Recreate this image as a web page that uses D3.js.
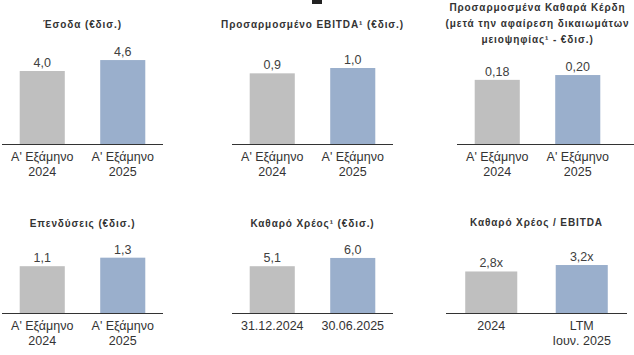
<!DOCTYPE html>
<html><head><meta charset="utf-8">
<script src="https://cdn.jsdelivr.net/npm/d3@7"></script>
<style>
html,body{margin:0;padding:0;background:#fff;}
svg{display:block;font-family:"Liberation Sans",Arial,sans-serif;}
</style></head><body>
<svg id="c" width="634" height="355"></svg>
<script>
// ---- data ----
const titles = [
  ["Έσοδα (€δισ.)"],
  ["Προσαρμοσμένο EBITDA¹ (€δισ.)"],
  ["Προσαρμοσμένα Καθαρά Κέρδη", "(μετά την αφαίρεση δικαιωμάτων", "μειοψηφίας¹ - €δισ.)"],
  ["Επενδύσεις (€δισ.)"],
  ["Καθαρό Χρέος¹ (€δισ.)"],
  ["Καθαρό Χρέος / EBITDA"]
];
const categoriesH1 = [["Α' Εξάμηνο", "2024"], ["Α' Εξάμηνο", "2025"]];
const categoriesDebt = [["31.12.2024"], ["30.06.2025"]];
const categoriesLev = [["2024"], ["LTM", "Ιουν. 2025"]];
const revenue = [4.0, 4.6];
const ebitda = [0.93, 1.0];
const netIncome = [0.186, 0.20];
const capex = [1.1, 1.3];
const netDebt = [5.1, 6.0];
const leverage = [2.77, 3.2];
const labelsRevenue = ["4,0", "4,6"];
const labelsEbitda = ["0,9", "1,0"];
const labelsNetIncome = ["0,18", "0,20"];
const labelsCapex = ["1,1", "1,3"];
const labelsNetDebt = ["5,1", "6,0"];
const labelsLeverage = ["2,8x", "3,2x"];

// ---- layout ----
const colors = ["#bfbfbf", "#9aafcc"];
const panels = [
  {title: titles[0], cats: categoriesH1, vals: revenue, labels: labelsRevenue, x0: 2, x1: 163, ax1: 163, axisY: 144, titleY: 28, dmax: 5.48, pad: 0.44},
  {title: titles[1], cats: categoriesH1, vals: ebitda, labels: labelsEbitda, x0: 232, x1: 393, ax1: 393, axisY: 144, titleY: 28, dmax: 1.316, pad: 0.44},
  {title: titles[2], cats: categoriesH1, vals: netIncome, labels: labelsNetIncome, x0: 457, x1: 618, ax1: 634, axisY: 144, titleY: 11, dmax: 0.29, pad: 0.44},
  {title: titles[3], cats: categoriesH1, vals: capex, labels: labelsCapex, x0: 2, x1: 163, ax1: 163, axisY: 313, titleY: 227, dmax: 2.35, pad: 0.44},
  {title: titles[4], cats: categoriesDebt, vals: netDebt, labels: labelsNetDebt, x0: 232, x1: 393, ax1: 393, axisY: 313, titleY: 227, dmax: 10.9, pad: 0.44},
  {title: titles[5], cats: categoriesLev, vals: leverage, labels: labelsLeverage, x0: 446, x1: 627, ax1: 627, axisY: 313, titleY: 226, dmax: 6.67, pad: 0.425}
];

const svg = d3.select("#c");
// small decorative mark at top
svg.append("rect").attr("x", 312).attr("y", 0).attr("width", 10).attr("height", 4).attr("fill", "#222");

panels.forEach(p => {
  const g = svg.append("g");
  const idx = d3.range(p.vals.length);
  const x = d3.scaleBand().domain(idx).range([p.x0, p.x1]).paddingInner(p.pad).paddingOuter(p.pad / 2);
  const y = d3.scaleLinear().domain([0, p.dmax]).range([p.axisY, p.axisY - 100]);
  const cx = (p.x0 + p.x1) / 2;

  // title
  p.title.forEach((t, i) => {
    g.append("text").attr("x", cx).attr("y", p.titleY + i * 16)
      .attr("text-anchor", "middle").attr("font-size", 10).attr("font-weight", "bold")
      .attr("letter-spacing", "0.9px").attr("fill", "#333").text(t);
  });

  // bars
  g.selectAll("rect.bar").data(idx).join("rect").attr("class", "bar")
    .attr("x", i => x(i)).attr("width", x.bandwidth())
    .attr("y", i => y(p.vals[i])).attr("height", i => p.axisY - y(p.vals[i]))
    .attr("fill", i => colors[i]);

  // value labels
  g.selectAll("text.val").data(idx).join("text").attr("class", "val")
    .attr("x", i => x(i) + x.bandwidth() / 2).attr("y", i => y(p.vals[i]) - 4)
    .attr("text-anchor", "middle").attr("font-size", 12.5).attr("fill", "#404040")
    .text(i => p.labels[i]);

  // axis line
  g.append("line").attr("x1", p.x0).attr("x2", p.ax1).attr("y1", p.axisY + 0.5).attr("y2", p.axisY + 0.5)
    .attr("stroke", "#333").attr("stroke-width", 1);

  // categories
  idx.forEach(i => {
    p.cats[i].forEach((line, j) => {
      g.append("text").attr("x", x(i) + x.bandwidth() / 2).attr("y", p.axisY + 16.5 + j * 15)
        .attr("text-anchor", "middle").attr("font-size", 12.5).attr("fill", "#333").text(line);
    });
  });
});
</script>
</body></html>
